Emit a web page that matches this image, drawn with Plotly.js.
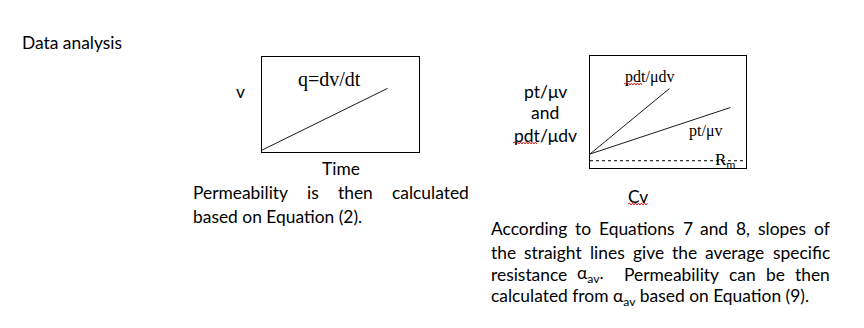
<!DOCTYPE html>
<html>
<head>
<meta charset="utf-8">
<script src="https://cdn.plot.ly/plotly-3.0.1.min.js"></script>
<style>
  html, body { margin: 0; padding: 0; background: #ffffff; }
  #chart { width: 864px; height: 328px; }
</style>
</head>
<body>
<div id="chart"></div>
<script>
// Filtration data analysis: volume vs time, and pt/μv, pdt/μdv vs Cv

// Left panel: cumulative filtrate volume v against time
const timeValues = [0, 8];
const volumeValues = [0.2, 6.7];

// Right panel: two straight-line plots against Cv and the Rm baseline
const cvPdt = [0, 5.1];
const pdtValues = [1.25, 7.1];
const cvPt = [0, 9.0];
const ptValues = [1.25, 5.4];
const cvRm = [0, 10];
const rmValues = [0.65, 0.65];

// Text blocks
const leftParagraph = ["Permeability is then calculated", "based on Equation (2)."];
const rightParagraph = [
  "According to Equations 7 and 8, slopes of",
  "the straight lines give the average specific",
  "resistance α<sub>av</sub>.  Permeability can be then",
  "calculated from α<sub>av</sub> based on Equation (9)."
];
const yLabelLines = ["pt/μv", "and", "pdt/μdv"];

const W = 864, H = 328;
const SANS = 'Lato, "Open Sans", sans-serif';
const SERIF = '"Liberation Serif", "Times New Roman", serif';
const BODY = 17.4;
const px = x => x / W;
const py = y => 1 - y / H;

const ctx = document.createElement('canvas').getContext('2d');
function measure(html, size) {
  // width of a token, with <sub> parts measured at Plotly's 70% size
  let w = 0;
  const parts = html.split(/(<sub>.*?<\/sub>)/);
  for (const p of parts) {
    if (!p) continue;
    const m = p.match(/^<sub>(.*)<\/sub>$/);
    if (m) { ctx.font = (size * 0.7) + 'px Lato'; w += ctx.measureText(m[1]).width; }
    else { ctx.font = size + 'px Lato'; w += ctx.measureText(p).width; }
  }
  return w;
}

function textAnn(text, x, y, opts) {
  return Object.assign({
    text: text, x: px(x), y: py(y), xref: 'paper', yref: 'paper',
    xanchor: 'center', yanchor: 'middle', showarrow: false,
    borderpad: 0, borderwidth: 0,
    font: { family: SANS, size: BODY, color: '#000000' }
  }, opts || {});
}

// Lay out one line of justified text word by word
function justified(line, x0, x1, yc, size) {
  const tokens = line.split(/( +)/);
  const words = [];
  const gaps = [];
  tokens.forEach((t, i) => {
    if (i % 2 === 0) words.push(t); else gaps.push(t.length);
  });
  const widths = words.map(w => measure(w, size));
  const total = widths.reduce((a, b) => a + b, 0);
  const weight = gaps.reduce((a, b) => a + b, 0);
  const unit = (x1 - x0 - total) / weight;
  const anns = [];
  let x = x0;
  words.forEach((w, i) => {
    anns.push(textAnn(w, x, yc, { xanchor: 'left', font: { family: SANS, size: size, color: '#000000' } }));
    x += widths[i] + (i < gaps.length ? gaps[i] * unit : 0);
  });
  return anns;
}

// Red wavy underline
function squiggle(x0, x1, y) {
  let d = 'M' + px(x0) + ',' + py(y);
  let up = true;
  for (let x = x0 + 1.5; x <= x1; x += 1.5) {
    d += ' L' + px(x) + ',' + py(y + (up ? -1 : 1));
    up = !up;
  }
  return { type: 'path', xref: 'paper', yref: 'paper', path: d,
           line: { color: '#e02020', width: 1 } };
}

const lineStyle = { color: '#1a1a1a', width: 1 };
const traces = [
  { x: timeValues, y: volumeValues, xaxis: 'x', yaxis: 'y', mode: 'lines', line: lineStyle, hoverinfo: 'skip' },
  { x: cvPdt, y: pdtValues, xaxis: 'x2', yaxis: 'y2', mode: 'lines', line: lineStyle, hoverinfo: 'skip' },
  { x: cvPt, y: ptValues, xaxis: 'x2', yaxis: 'y2', mode: 'lines', line: lineStyle, hoverinfo: 'skip' },
  { x: cvRm, y: rmValues, xaxis: 'x2', yaxis: 'y2', mode: 'lines',
    line: { color: '#000000', width: 1, dash: 'dot' }, hoverinfo: 'skip' }
];

const frame = {
  showline: true, mirror: true, linecolor: '#000000', linewidth: 1,
  showgrid: false, zeroline: false, ticks: '', showticklabels: false,
  range: [0, 10], fixedrange: true
};

const labelFont = { family: SANS, size: 17.5, color: '#000000' };
const serifSmall = { family: SERIF, size: 16, color: '#000000' };

const annotations = [
  textAnn('Data analysis', 22, 42, { xanchor: 'left' }),
  textAnn('v', 240, 91),
  textAnn('q=dv/dt', 329, 79, { font: { family: SERIF, size: 20, color: '#000000' } }),
  textAnn('Time', 341, 168),
  ...justified(leftParagraph[0], 193, 469, 192, BODY),
  textAnn(leftParagraph[1], 193, 216, { xanchor: 'left' }),
  textAnn(yLabelLines[0], 545, 91, { font: labelFont }),
  textAnn(yLabelLines[1], 545, 113, { font: labelFont }),
  textAnn(yLabelLines[2], 545, 136, { font: labelFont }),
  textAnn('pdt/μdv', 649, 77, { font: serifSmall }),
  textAnn('pt/μv', 705, 131, { font: serifSmall }),
  textAnn('R<sub>m</sub>', 725, 161, { font: { family: SERIF, size: 17, color: '#000000' } }),
  textAnn('Cv', 638, 196),
  ...justified(rightParagraph[0], 491, 830, 229, BODY),
  ...justified(rightParagraph[1], 491, 830, 252, BODY),
  ...justified(rightParagraph[2], 491, 830, 274, BODY),
  textAnn(rightParagraph[3], 491, 297, { xanchor: 'left' })
];

const layout = {
  width: W, height: H,
  margin: { l: 0, r: 0, t: 0, b: 0 },
  paper_bgcolor: '#ffffff', plot_bgcolor: 'rgba(0,0,0,0)',
  showlegend: false,
  xaxis: Object.assign({}, frame, { domain: [px(262), px(419)], anchor: 'y' }),
  yaxis: Object.assign({}, frame, { domain: [py(152), py(57)], anchor: 'x' }),
  xaxis2: Object.assign({}, frame, { domain: [px(590), px(746)], anchor: 'y2' }),
  yaxis2: Object.assign({}, frame, { domain: [py(168), py(56)], anchor: 'x2' }),
  annotations: annotations,
  shapes: [
    squiggle(513, 538, 143),
    squiggle(624, 643, 84),
    squiggle(628, 648, 204)
  ]
};

Plotly.newPlot('chart', traces, layout, { displayModeBar: false, staticPlot: true });
</script>
</body>
</html>
